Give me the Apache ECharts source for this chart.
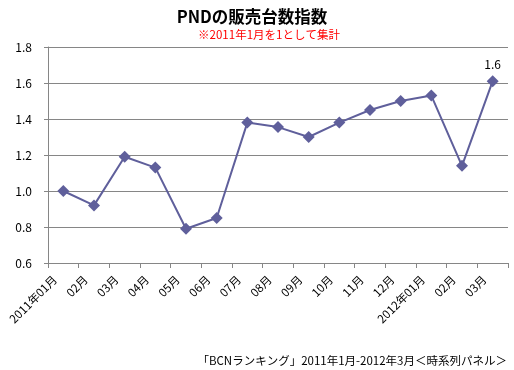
<!DOCTYPE html>
<html><head><meta charset="utf-8">
<script src="https://cdn.jsdelivr.net/npm/echarts@6/dist/echarts.min.js"></script>
<style>html,body{margin:0;padding:0;background:#fff}#c{width:514px;height:370px}</style>
</head><body><div id="c"></div>
<script>
const categories = ["2011年01月","02月","03月","04月","05月","06月","07月","08月","09月","10月","11月","12月","2012年01月","02月","03月"];
const indexValues = [1.00,0.92,1.19,1.13,0.79,0.85,1.38,1.355,1.30,1.38,1.45,1.50,1.53,1.14,1.61];
const yTicks = {min:0.6, max:1.8, step:0.2};
const titleText = "PNDの販売台数指数";
const subText = "※2011年1月を1として集計";
const footText = "「BCNランキング」2011年1月-2012年3月＜時系列パネル＞";

const font = "'Noto Sans CJK JP', 'Liberation Sans', sans-serif";
const chart = echarts.init(document.getElementById('c'), null, {renderer:'canvas'});
const lastIdx = indexValues.length - 1;
chart.setOption({
  animation:false,
  backgroundColor:'#fff',
  title:[
    {text:titleText, left:247, top:3, textAlign:'center',
     textStyle:{fontFamily:font, fontSize:16.5, fontWeight:'bold', color:'#000'}},
    {text:subText, left:264, top:24, textAlign:'center',
     textStyle:{fontFamily:font, fontSize:11.5, fontWeight:'normal', color:'#ff0000'}},
    {text:footText, right:2, top:350,
     textStyle:{fontFamily:font, fontSize:11.5, fontWeight:'normal', color:'#000'}}
  ],
  grid:{left:48, right:6, top:47, bottom:107, containLabel:false},
  xAxis:{
    type:'category', data:categories, boundaryGap:true,
    axisLine:{lineStyle:{color:'#868686', width:1}},
    axisTick:{show:true, interval:0, length:5, inside:false, lineStyle:{color:'#868686'}},
    axisLabel:{interval:0, rotate:45, margin:6, padding:[0,12,0,0], fontFamily:font, fontSize:11.5, color:'#000'}
  },
  yAxis:{
    type:'value', min:yTicks.min, max:yTicks.max, interval:yTicks.step,
    axisLine:{show:true, lineStyle:{color:'#868686', width:1}},
    axisTick:{show:true, length:4, inside:false, lineStyle:{color:'#868686'}},
    axisLabel:{margin:16, fontFamily:font, fontSize:12, color:'#000',
      formatter:v=>v.toFixed(1)},
    splitLine:{show:true, lineStyle:{color:'#868686', width:1}}
  },
  series:[{
    type:'line', data:indexValues.map((v,i)=>({value:v,
      label:{show:i===lastIdx, position:'top', distance:5,
        formatter:p=>p.value.toFixed(1), fontFamily:font, fontSize:12, color:'#000'}})),
    symbol:'diamond', symbolSize:12,
    lineStyle:{color:'#5f5f9b', width:2},
    itemStyle:{color:'#5f5f9b'},
    z:5
  }]
});
</script></body></html>
